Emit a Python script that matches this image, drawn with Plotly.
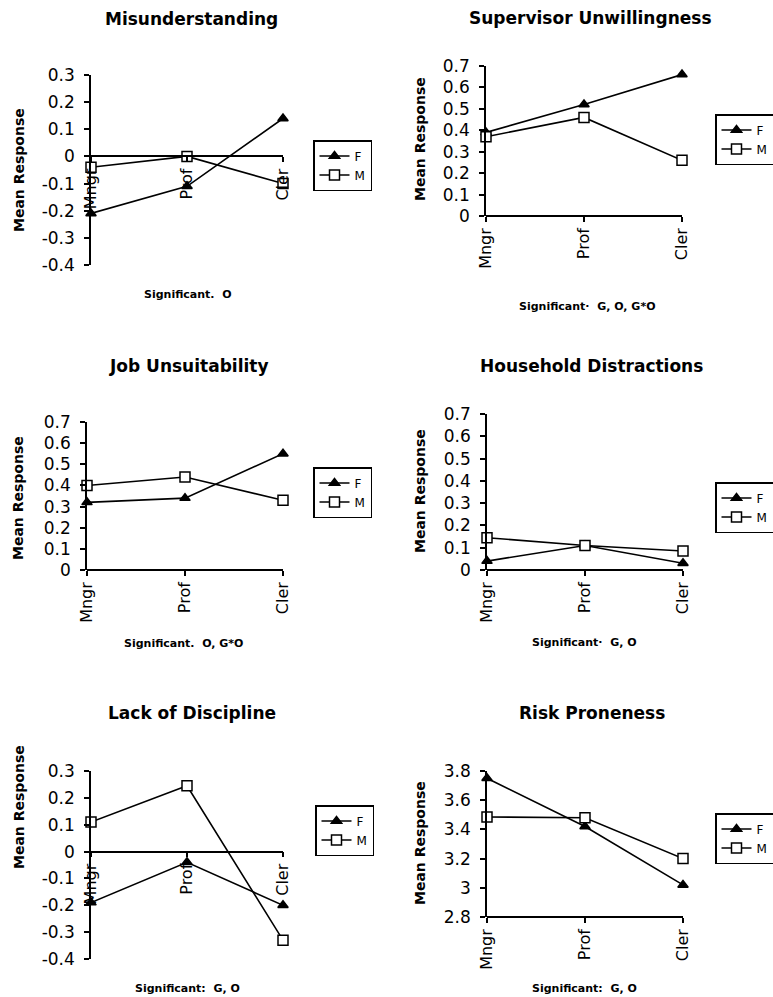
import plotly.graph_objects as go

W, H = 773, 997

categories = ["Mngr", "Prof", "Cler"]
series_names = ["F", "M"]

titles = ["Misunderstanding", "Supervisor Unwillingness", "Job Unsuitability",
          "Household Distractions", "Lack of Discipline", "Risk Proneness"]
notes = ["Significant.\u00a0 O", "Significant·\u00a0 G, O, G*O", "Significant.\u00a0 O, G*O",
         "Significant·\u00a0 G, O", "Significant:\u00a0 G, O", "Significant:\u00a0 G, O"]
y_title = "Mean Response"

misunderstanding_F = [-0.21, -0.11, 0.14]
misunderstanding_M = [-0.04, 0.0, -0.10]
supervisor_F = [0.39, 0.52, 0.66]
supervisor_M = [0.37, 0.46, 0.26]
job_F = [0.32, 0.34, 0.55]
job_M = [0.40, 0.44, 0.33]
household_F = [0.04, 0.11, 0.03]
household_M = [0.145, 0.11, 0.085]
discipline_F = [-0.19, -0.04, -0.20]
discipline_M = [0.11, 0.245, -0.33]
risk_F = [3.75, 3.42, 3.02]
risk_M = [3.485, 3.48, 3.20]

ticks_neg = [-0.4, -0.3, -0.2, -0.1, 0, 0.1, 0.2, 0.3]
ticks_neg_text = ["-0.4", "-0.3", "-0.2", "-0.1", "0", "0.1", "0.2", "0.3"]
ticks_pos = [0, 0.1, 0.2, 0.3, 0.4, 0.5, 0.6, 0.7]
ticks_pos_text = ["0", "0.1", "0.2", "0.3", "0.4", "0.5", "0.6", "0.7"]
ticks_risk = [2.8, 3.0, 3.2, 3.4, 3.6, 3.8]
ticks_risk_text = ["2.8", "3", "3.2", "3.4", "3.6", "3.8"]

F_values = [misunderstanding_F, supervisor_F, job_F, household_F, discipline_F, risk_F]
M_values = [misunderstanding_M, supervisor_M, job_M, household_M, discipline_M, risk_M]
y_ranges = [[-0.4, 0.3], [0, 0.7], [0, 0.7], [0, 0.7], [-0.4, 0.3], [2.8, 3.8]]
y_ticks = [ticks_neg, ticks_pos, ticks_pos, ticks_pos, ticks_neg, ticks_risk]
y_ticktext = [ticks_neg_text, ticks_pos_text, ticks_pos_text, ticks_pos_text, ticks_neg_text, ticks_risk_text]

# layout geometry in pixels: (x_left, x_right, y_top, y_bottom)
boxes = [(91, 283, 75, 265), (486, 682, 66, 216), (87, 283, 422, 570),
         (487, 683, 414, 570), (91, 283, 771, 959), (487, 683, 771, 917)]
legend_pos = [(313, 140), (715, 114), (313, 467), (715, 482), (315, 805), (715, 813)]
title_pos = [(191, 19), (590, 18), (189, 366), (591, 366), (192, 713), (592, 713)]
note_pos = [(188, 295), (587, 307), (183, 643), (584, 642), (187, 988), (584, 988)]
ytitle_pos = [(19, 170), (420, 139), (18, 498), (420, 491), (19, 807), (420, 843)]

FONT = "DejaVu Sans"
fig = go.Figure()
annotations = []
layout = {}

for i in range(6):
    n = i + 1
    sfx = "" if n == 1 else str(n)
    xa, ya = "x" + sfx, "y" + sfx
    leg = "legend" + sfx
    for name, vals, sym, fill in [("F", F_values[i], "triangle-up", "black"),
                                  ("M", M_values[i], "square", "white")]:
        fig.add_trace(go.Scatter(
            x=categories, y=vals, xaxis=xa, yaxis=ya, name=name, legend=leg,
            mode="lines+markers", cliponaxis=False,
            line=dict(color="black", width=1.6),
            marker=dict(symbol=sym, size=10 if name == "M" else 9, color=fill,
                        line=dict(color="black", width=1.5)),
        ))
    x0, x1, yt, yb = boxes[i]
    ydom = [1 - yb / H, 1 - yt / H]
    r = y_ranges[i]
    if r[0] < 0:
        pos = ydom[0] + (0 - r[0]) / (r[1] - r[0]) * (ydom[1] - ydom[0])
    else:
        pos = ydom[0]
    layout["xaxis" + sfx] = dict(
        domain=[x0 / W, x1 / W], anchor="free", position=pos, type="category",
        range=[0, 2], showline=True, linecolor="black", linewidth=1.5,
        ticks="outside", ticklen=5, tickwidth=1.5, tickcolor="black",
        tickangle=-90, tickfont=dict(family=FONT, size=16, color="black"),
        showgrid=False, zeroline=False, fixedrange=True,
    )
    layout["yaxis" + sfx] = dict(
        domain=ydom, anchor=xa, range=r, tickvals=y_ticks[i], ticktext=y_ticktext[i],
        showline=True, linecolor="black", linewidth=1.5,
        ticks="outside", ticklen=5, tickwidth=1.5, tickcolor="black",
        ticklabelstandoff=6,
        tickfont=dict(family=FONT, size=17, color="black"),
        showgrid=False, zeroline=False, fixedrange=True,
    )
    lx, ly = legend_pos[i]
    layout[leg] = dict(
        x=lx / W, y=1 - ly / H, xanchor="left", yanchor="top",
        xref="paper", yref="paper",
        bordercolor="black", borderwidth=1.5, bgcolor="white",
        font=dict(family=FONT, size=12, color="black"),
        itemwidth=30, tracegroupgap=0,
    )
    tx, ty = title_pos[i]
    annotations.append(dict(
        text=titles[i], x=tx / W, y=1 - ty / H, xref="paper", yref="paper",
        xanchor="center", yanchor="middle", showarrow=False,
        font=dict(family=FONT, size=17, color="black", weight="bold"),
    ))
    nx, ny = note_pos[i]
    annotations.append(dict(
        text=notes[i], x=nx / W, y=1 - ny / H, xref="paper", yref="paper",
        xanchor="center", yanchor="middle", showarrow=False,
        font=dict(family=FONT, size=11, color="black", weight="bold"),
    ))
    ax_, ay_ = ytitle_pos[i]
    annotations.append(dict(
        text=y_title, x=ax_ / W, y=1 - ay_ / H, xref="paper", yref="paper",
        xanchor="center", yanchor="middle", showarrow=False, textangle=-90,
        font=dict(family=FONT, size=14, color="black", weight="bold"),
    ))

fig.update_layout(
    width=W, height=H, margin=dict(l=0, r=0, t=0, b=0, autoexpand=False),
    paper_bgcolor="white", plot_bgcolor="white",
    annotations=annotations, showlegend=True,
    **layout,
)

fig.write_html("out.html", config={"displayModeBar": False},
               post_script="document.body.style.margin='0';document.body.style.overflow='hidden';")
